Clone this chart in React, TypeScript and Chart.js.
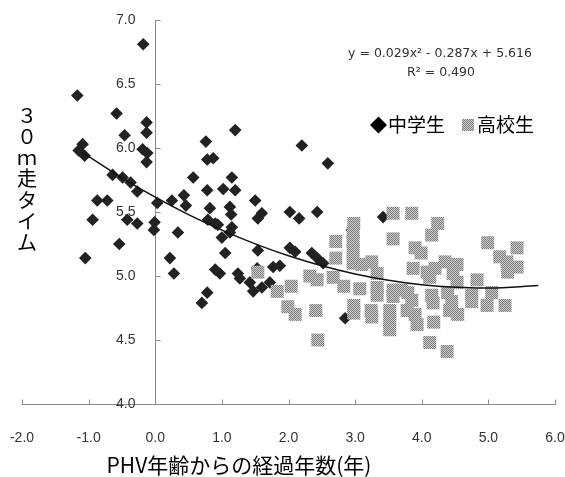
import React, { useEffect, useRef } from "react";
import { Chart, registerables } from "chart.js";

Chart.register(...registerables);

// 中学生 (junior high) : years from PHV age, 30m time
const juniorX = [
  -1.17, -0.18, -0.58, -0.46, -0.13, -0.13, -0.19, -0.12, -0.13, -1.09,
  -1.15, -1.06, -0.64, -0.49, -0.37, -0.27, 0.03, 0.25, 0.43, 0.46,
  0.57, -0.87, -0.72, -0.94, -0.42, -0.27, -0.01, -0.02, 0.34, -0.54,
  -1.05, 0.22, 0.28, 1.2, 2.2, 0.76, 0.78, 0.87, 1.15, 0.78,
  1.02, 1.2, 1.5, 0.82, 1.12, 1.14, 1.6, 1.54, 2.02, 2.16,
  2.43, 0.79, 0.9, 0.94, 1.15, 1.12, 1.0, 1.05, 1.54, 2.02,
  2.1, 2.35, 2.43, 0.97, 0.9, 1.24, 1.27, 1.42, 1.47, 1.6,
  1.72, 1.77, 1.87, 1.53, 0.78, 0.7, 2.59, 3.42, 2.85, 2.52,
  2.95,
];
const juniorY = [
  6.41, 6.81, 6.27, 6.1, 6.2, 6.12, 5.99, 5.96, 5.89, 6.03,
  5.98, 5.94, 5.79, 5.77, 5.73, 5.66, 5.57, 5.59, 5.63, 5.55,
  5.77, 5.59, 5.59, 5.44, 5.44, 5.41, 5.42, 5.36, 5.34, 5.25,
  5.14, 5.14, 5.02, 6.14, 6.02, 6.05, 5.91, 5.92, 5.77, 5.67,
  5.68, 5.67, 5.59, 5.53, 5.54, 5.48, 5.49, 5.45, 5.5, 5.45,
  5.5, 5.44, 5.41, 5.4, 5.38, 5.34, 5.3, 5.18, 5.2, 5.22,
  5.19, 5.18, 5.14, 5.02, 5.05, 5.02, 4.98, 4.95, 4.88, 4.91,
  4.95, 5.07, 5.08, 5.06, 4.87, 4.79, 5.88, 5.46, 4.67, 5.1,
  5.36,
];

// 高校生 (senior high)
const seniorX = [
  3.57, 3.85, 2.98, 2.97, 2.97, 2.97, 2.71, 3.57, 2.71, 2.97,
  3.1, 3.25, 3.33, 2.32, 2.43, 2.67, 2.83, 2.04, 3.07, 3.33,
  3.33, 3.57, 3.57, 1.54, 1.83, 1.99, 2.1, 2.41, 2.98, 2.98,
  3.24, 3.25, 3.52, 3.52, 3.52, 2.44, 4.24, 4.15, 4.99, 5.43,
  5.17, 5.28, 5.43, 5.29, 3.9, 3.99, 4.35, 4.53, 4.47, 3.87,
  4.08, 4.2, 4.83, 4.12, 4.53, 3.7, 3.79, 3.85, 4.15, 4.17,
  4.39, 4.45, 4.75, 4.75, 5.05, 4.98, 5.25, 3.78, 3.9, 4.42,
  4.54, 3.93, 4.18, 4.12, 4.38,
];
const seniorY = [
  5.49, 5.49, 5.41, 5.34, 5.27, 5.2, 5.27, 5.29, 5.14, 5.1,
  5.09, 5.11, 5.02, 5.0, 4.97, 4.99, 4.92, 4.92, 4.9, 4.91,
  4.85, 4.89, 4.84, 5.03, 4.88, 4.76, 4.7, 4.73, 4.77, 4.71,
  4.73, 4.68, 4.73, 4.66, 4.58, 4.5, 5.41, 5.32, 5.26, 5.22,
  5.15, 5.11, 5.07, 5.03, 5.22, 5.18, 5.11, 5.09, 5.02, 5.06,
  5.03, 5.06, 4.97, 4.99, 4.95, 4.89, 4.87, 4.81, 4.85, 4.79,
  4.87, 4.8, 4.85, 4.8, 4.87, 4.77, 4.77, 4.73, 4.7, 4.73,
  4.7, 4.62, 4.64, 4.48, 4.41,
];

// polynomial trend line as drawn in the picture
const trendX = [-1.1, -0.5, 0, 0.5, 1, 1.5, 2, 2.5, 3, 3.5, 4, 4.5, 5, 5.75];
const trendY = [5.967, 5.767, 5.616, 5.48, 5.358, 5.251, 5.158, 5.08, 5.016, 4.967, 4.932, 4.912, 4.906, 4.925];

const xTicks = [-2, -1, 0, 1, 2, 3, 4, 5, 6];
const yTicks = [4, 4.5, 5, 5.5, 6, 6.5, 7];

const xTitle = "PHV年齢からの経過年数(年)";
const yTitle = "３０ｍ走タイム";
const juniorLabel = "中学生";
const seniorLabel = "高校生";
const equationText = "y = 0.029x² - 0.287x + 5.616";
const r2Text = "R² = 0.490";

function makePattern(): CanvasPattern | string {
  const c = document.createElement("canvas");
  c.width = 2;
  c.height = 2;
  const g = c.getContext("2d");
  const host = document.createElement("canvas").getContext("2d");
  if (!g || !host) return "#aaaaaa";
  g.fillStyle = "#d0d0d0";
  g.fillRect(0, 0, 2, 2);
  g.fillStyle = "#7a7a7a";
  g.fillRect(0, 0, 1, 1);
  g.fillRect(1, 1, 1, 1);
  return host.createPattern(c, "repeat") || "#aaaaaa";
}

export default function App() {
  const ref = useRef<HTMLCanvasElement | null>(null);

  useEffect(() => {
    if (!ref.current) return;
    const pattern = makePattern();

    const decor = {
      id: "decor",
      afterDraw(chart: any) {
        const { ctx } = chart;
        const xs = chart.scales.x;
        const ys = chart.scales.y;
        ctx.save();
        // tick marks
        ctx.strokeStyle = "#8a8a8a";
        ctx.lineWidth = 1;
        const baseY = Math.round(ys.getPixelForValue(4)) + 0.5;
        xTicks.forEach((v) => {
          const px = Math.round(xs.getPixelForValue(v)) + 0.5;
          ctx.beginPath();
          ctx.moveTo(px, baseY);
          ctx.lineTo(px, baseY - 5);
          ctx.stroke();
        });
        const axX = Math.round(xs.getPixelForValue(0)) + 0.5;
        yTicks.forEach((v) => {
          const py = Math.round(ys.getPixelForValue(v)) + 0.5;
          ctx.beginPath();
          ctx.moveTo(axX, py);
          ctx.lineTo(axX + 5, py);
          ctx.stroke();
        });

        // y tick labels, left of the axis crossing at x = 0
        ctx.fillStyle = "#333";
        ctx.font = "14px 'Liberation Sans'";
        ctx.textAlign = "right";
        ctx.textBaseline = "middle";
        yTicks.forEach((v) => {
          ctx.fillText(v.toFixed(1), axX - 20, ys.getPixelForValue(v));
        });

        // y title (stacked vertical)
        ctx.fillStyle = "#000";
        ctx.textAlign = "center";
        ctx.textBaseline = "middle";
        ctx.font = "20px 'Noto Sans CJK JP'";
        Array.from(yTitle).forEach((ch, i) => {
          ctx.fillText(ch, 27, 115 + i * 21.3);
        });

        // x title
        ctx.font = "21px 'Noto Sans CJK JP'";
        ctx.fillText(xTitle, 239, 465);

        // equation
        ctx.fillStyle = "#333";
        ctx.font = "12.5px 'DejaVu Sans'";
        ctx.fillText(equationText, 440, 54);
        ctx.fillText(r2Text, 441, 73);

        // legend
        ctx.textAlign = "left";
        ctx.fillStyle = "#000";
        ctx.font = "19px 'Noto Sans CJK JP'";
        ctx.beginPath();
        ctx.moveTo(370, 125);
        ctx.lineTo(378.5, 116.5);
        ctx.lineTo(387, 125);
        ctx.lineTo(378.5, 133.5);
        ctx.closePath();
        ctx.fill();
        ctx.fillText(juniorLabel, 388, 125);
        ctx.fillStyle = pattern as any;
        ctx.fillRect(462, 119, 12, 12);
        ctx.fillStyle = "#000";
        ctx.fillText(seniorLabel, 477, 125);
        ctx.restore();
      },
    };

    const chart = new Chart(ref.current, {
      type: "scatter",
      data: {
        datasets: [
          {
            label: "trend",
            data: trendX.map((x, i) => ({ x, y: trendY[i] })),
            showLine: true,
            borderColor: "#111",
            borderWidth: 1.5,
            pointRadius: 0,
            tension: 0.4,
            fill: false,
          } as any,
          {
            label: seniorLabel,
            data: seniorX.map((x, i) => ({ x, y: seniorY[i] })),
            pointStyle: "rect",
            pointRadius: 9.2,
            backgroundColor: pattern as any,
            borderWidth: 0,
          },
          {
            label: juniorLabel,
            data: juniorX.map((x, i) => ({ x, y: juniorY[i] })),
            pointStyle: "rectRot",
            pointRadius: 6.3,
            backgroundColor: "#222",
            borderWidth: 0,
          },
        ],
      },
      options: {
        animation: false,
        responsive: false,
        events: [],
        layout: { padding: { left: 22, right: 10, top: 20, bottom: 0 } },
        plugins: {
          legend: { display: false },
          tooltip: { enabled: false },
        },
        scales: {
          x: {
            type: "linear",
            min: -2,
            max: 6,
            afterBuildTicks: (s: any) => {
              s.ticks = xTicks.map((v) => ({ value: v }));
            },
            afterFit: (s: any) => {
              s.height = 73;
              s.paddingLeft = 0;
              s.paddingRight = 0;
            },
            ticks: {
              callback: (v: any) => Number(v).toFixed(1),
              font: { family: "'Liberation Sans'", size: 14 },
              color: "#333",
              padding: 26,
              maxRotation: 0,
              autoSkip: false,
            },
            grid: { display: true, drawOnChartArea: false, drawTicks: false, color: "rgba(0,0,0,0)" },
            border: { display: true, color: "#8a8a8a", width: 1 },
          },
          y: {
            type: "linear",
            position: { x: 0 } as any,
            min: 4,
            max: 7,
            afterBuildTicks: (s: any) => {
              s.ticks = yTicks.map((v) => ({ value: v }));
            },
            afterFit: (s: any) => {
              s.paddingTop = 0;
              s.paddingBottom = 0;
            },
            ticks: { display: false },
            grid: { display: true, drawOnChartArea: false, drawTicks: false, color: "rgba(0,0,0,0)" },
            border: { display: true, color: "#8a8a8a", width: 1 },
          },
        },
      },
      plugins: [decor],
    });
    return () => chart.destroy();
  }, []);

  return (
    <div style={{ position: "fixed", left: 0, top: 0, width: 565, height: 477, background: "#fff" }}>
      <canvas ref={ref} width={565} height={477} />
    </div>
  );
}
